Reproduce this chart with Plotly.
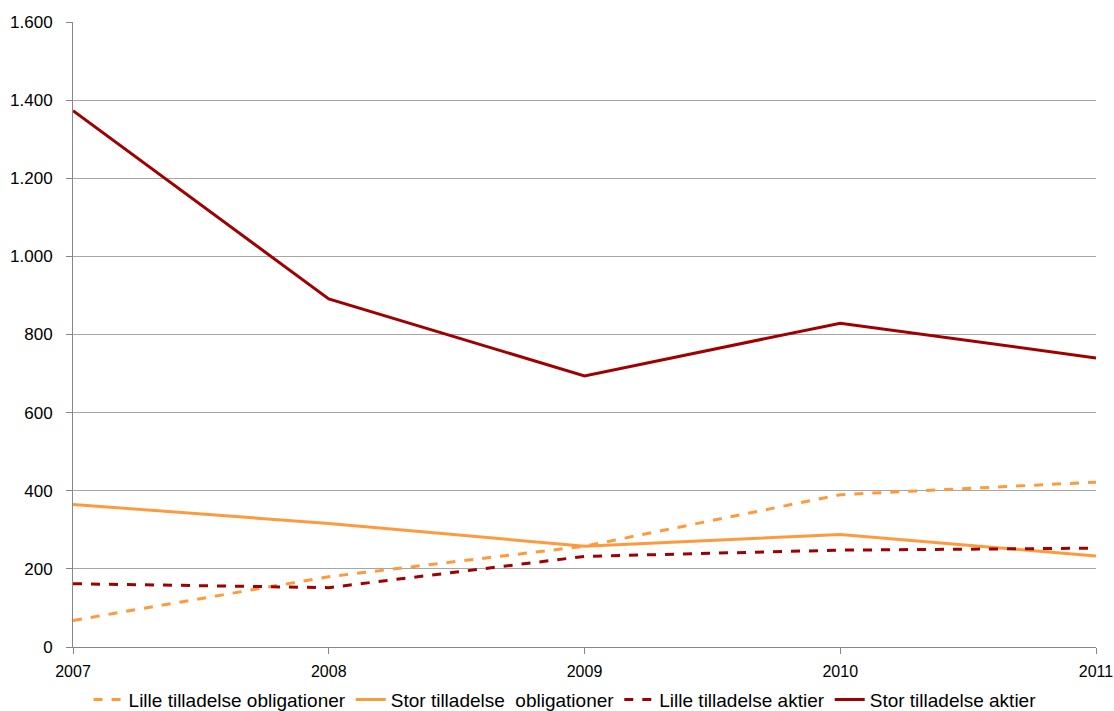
import plotly.graph_objects as go

years = [2007, 2008, 2009, 2010, 2011]
lille_oblig = [68, 180, 258, 390, 422]
stor_oblig = [365, 316, 258, 288, 233]
lille_aktier = [162, 152, 232, 248, 253]
stor_aktier = [1373, 891, 694, 829, 740]

orange = "#FF9A3C"
darkred = "#A00000"

fig = go.Figure()
fig.add_trace(go.Scatter(x=years, y=lille_oblig, mode="lines", name="Lille tilladelse obligationer",
                         line=dict(color=orange, width=3, dash="dash")))
fig.add_trace(go.Scatter(x=years, y=stor_oblig, mode="lines", name="Stor tilladelse  obligationer",
                         line=dict(color=orange, width=3)))
fig.add_trace(go.Scatter(x=years, y=lille_aktier, mode="lines", name="Lille tilladelse aktier",
                         line=dict(color=darkred, width=3, dash="dash")))
fig.add_trace(go.Scatter(x=years, y=stor_aktier, mode="lines", name="Stor tilladelse aktier",
                         line=dict(color=darkred, width=3)))

fig.update_layout(
    width=1114, height=711,
    margin=dict(l=73, r=18, t=22, b=64, autoexpand=False),
    paper_bgcolor="white", plot_bgcolor="white",
    separators=",.",
    font=dict(family="Liberation Sans, Arial, sans-serif", size=17, color="#000000"),
    showlegend=True,
    legend=dict(orientation="h", x=0.481, xanchor="center", yref="container", y=0.016, yanchor="middle",
                font=dict(size=19), itemwidth=30, tracegroupgap=0),
    xaxis=dict(range=[2007, 2011], tickvals=years, ticktext=[str(y) for y in years],
               showgrid=False, zeroline=False, showline=True, linecolor="#868686", linewidth=1,
               ticks="outside", ticklen=6, tickcolor="#868686", ticklabelstandoff=4,
               tickfont=dict(size=16)),
    yaxis=dict(range=[0, 1600], tickvals=[0, 200, 400, 600, 800, 1000, 1200, 1400, 1600],
               tickformat=",d", showgrid=True, gridcolor="#A6A6A6", gridwidth=1, zeroline=False,
               showline=True, linecolor="#868686", linewidth=1,
               ticks="outside", ticklen=6, tickcolor="#868686", ticklabelstandoff=10),
)

fig.write_html("out.html")
